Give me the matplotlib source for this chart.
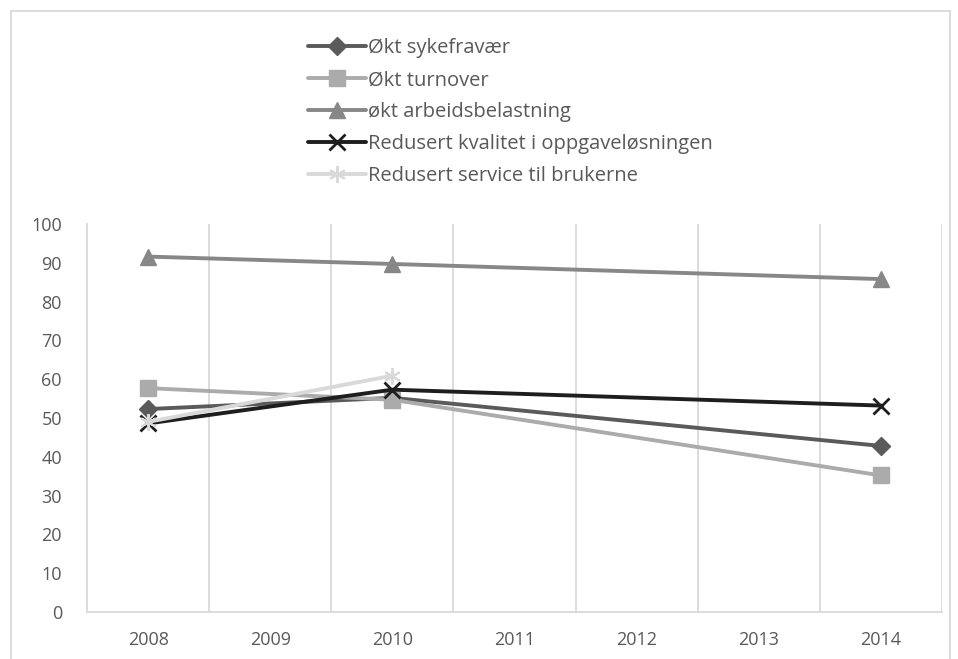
import matplotlib.pyplot as plt
from matplotlib.patches import Rectangle

years = ["2008", "2009", "2010", "2011", "2012", "2013", "2014"]

sykefravaer = [52.3, None, 55.2, None, None, None, 42.8]
turnover = [57.7, None, 54.7, None, None, None, 35.2]
arbeidsbelastning = [91.6, None, 89.7, None, None, None, 85.8]
kvalitet = [48.6, None, 57.3, None, None, None, 53.2]
service = [49.0, None, 60.9, None, None, None, None]

series_names = [
    "Økt sykefravær",
    "Økt turnover",
    "økt arbeidsbelastning",
    "Redusert kvalitet i oppgaveløsningen",
    "Redusert service til brukerne",
]

plt.rcParams['font.family'] = ['Open Sans', 'DejaVu Sans']

fig = plt.figure(figsize=(9.58, 6.59), dpi=100)
ax = fig.add_axes([87 / 958, 1 - 612 / 659, 855 / 958, 388 / 659])

styles = [
    dict(color="#5a5a5a", marker="D", markersize=9),
    dict(color="#ababab", marker="s", markersize=11),
    dict(color="#878787", marker="^", markersize=12),
    dict(color="#1e1e1e", marker="x", markersize=11, markeredgewidth=2),
    dict(color="#d9d9d9", marker=(6, 2, 0), markersize=12, markeredgewidth=1.5),
]

for name, vals, st in zip(series_names,
                          [sykefravaer, turnover, arbeidsbelastning, kvalitet, service],
                          styles):
    xs = [i for i, v in enumerate(vals) if v is not None]
    ys = [v for v in vals if v is not None]
    ax.plot(xs, ys, label=name, linewidth=2.8, solid_capstyle="round", **st)

ax.set_xlim(-0.5, len(years) - 0.5)
ax.set_ylim(0, 100)
ax.set_yticks(range(0, 101, 10))
ax.set_xticks(range(len(years)))
ax.set_xticklabels(years)

# vertical grid lines between the year categories
for b in range(1, len(years)):
    ax.axvline(b - 0.5, color="#d9d9d9", linewidth=1.3, zorder=0)
ax.axvline(len(years) - 0.5, color="#d9d9d9", linewidth=1.3, zorder=0)

for side in ["top", "right"]:
    ax.spines[side].set_visible(False)
for side in ["left", "bottom"]:
    ax.spines[side].set_color("#d9d9d9")
    ax.spines[side].set_linewidth(1.3)

ax.tick_params(axis="both", length=0, labelsize=13, labelcolor="#595959")
ax.tick_params(axis="y", pad=18)
ax.tick_params(axis="x", pad=14)

leg = fig.legend(loc="upper left", bbox_to_anchor=(300 / 958, 1 - 30 / 659),
                 frameon=False, fontsize=14.5, handlelength=2.9,
                 handletextpad=0.1, labelspacing=0.6, borderaxespad=0)
for t in leg.get_texts():
    t.set_color("#595959")

# light frame around the whole chart
fig.patches.append(Rectangle((11 / 958, -0.05), 939 / 958, 1 - 11 / 659 + 0.05,
                             transform=fig.transFigure, fill=False,
                             edgecolor="#d9d9d9", linewidth=1.3))

fig.savefig("out.png", dpi=100)
